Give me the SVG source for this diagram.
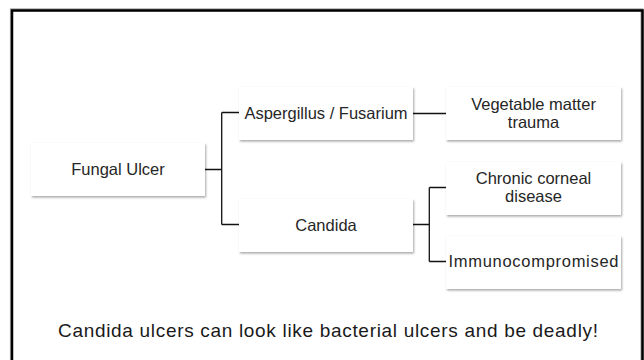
<svg xmlns="http://www.w3.org/2000/svg" width="644" height="360" viewBox="0 0 644 360">
<defs>
<filter id="sh" x="-10%" y="-20%" width="130%" height="150%">
<feDropShadow dx="1" dy="1.5" stdDeviation="1.2" flood-color="#000" flood-opacity="0.35"/>
</filter>
<style>
.box{fill:#fff;filter:url(#sh);}
.t{font-family:"Liberation Sans",Arial,sans-serif;font-size:16.5px;fill:#262626;text-anchor:middle;}
.c{fill:none;stroke:#111;stroke-width:1.3;}
</style>
</defs>
<rect width="644" height="360" fill="#fff"/>
<path d="M12,362 V10.5 H642.5 V362" fill="none" stroke="#777" stroke-width="3" transform="translate(-0.6,-0.8)" opacity="0.6"/>
<path d="M12,362 V10.5 H642.5 V362" fill="none" stroke="#000" stroke-width="2.5"/>
<g id="connectors">
<path class="c" d="M205,169.5 H221.7 M221.7,112.5 V224.5 M221.7,112.5 H239 M221.7,224.5 H239"/>
<path class="c" d="M413,113.5 H446"/>
<path class="c" d="M413,224.5 H429.3 M429.3,187.5 V261.5 M429.3,187.5 H446 M429.3,261.5 H446"/>
</g>
<g id="fungal">
<rect class="box" x="31" y="143" width="174" height="53"/>
<text class="t" x="118" y="175">Fungal Ulcer</text>
</g>
<g id="aspergillus">
<rect class="box" x="239" y="87" width="174" height="53"/>
<text class="t" x="326" y="119">Aspergillus / Fusarium</text>
</g>
<g id="candida">
<rect class="box" x="239" y="199" width="174" height="53"/>
<text class="t" x="326" y="231">Candida</text>
</g>
<g id="vegetable">
<rect class="box" x="446" y="87" width="175" height="53"/>
<text class="t" x="533.5" y="110">Vegetable matter</text>
<text class="t" x="533.5" y="128">trauma</text>
</g>
<g id="chronic">
<rect class="box" x="446" y="162" width="175" height="53"/>
<text class="t" x="533.5" y="184">Chronic corneal</text>
<text class="t" x="533.5" y="202">disease</text>
</g>
<g id="immuno">
<rect class="box" x="446" y="236" width="175" height="53"/>
<text class="t" x="533.5" y="267" textLength="170" lengthAdjust="spacing">Immunocompromised</text>
</g>
<text x="328" y="337" font-family="Liberation Sans, Arial, sans-serif" font-size="19" fill="#1a1a1a" text-anchor="middle" textLength="540" lengthAdjust="spacing">Candida ulcers can look like bacterial ulcers and be deadly!</text>
</svg>
